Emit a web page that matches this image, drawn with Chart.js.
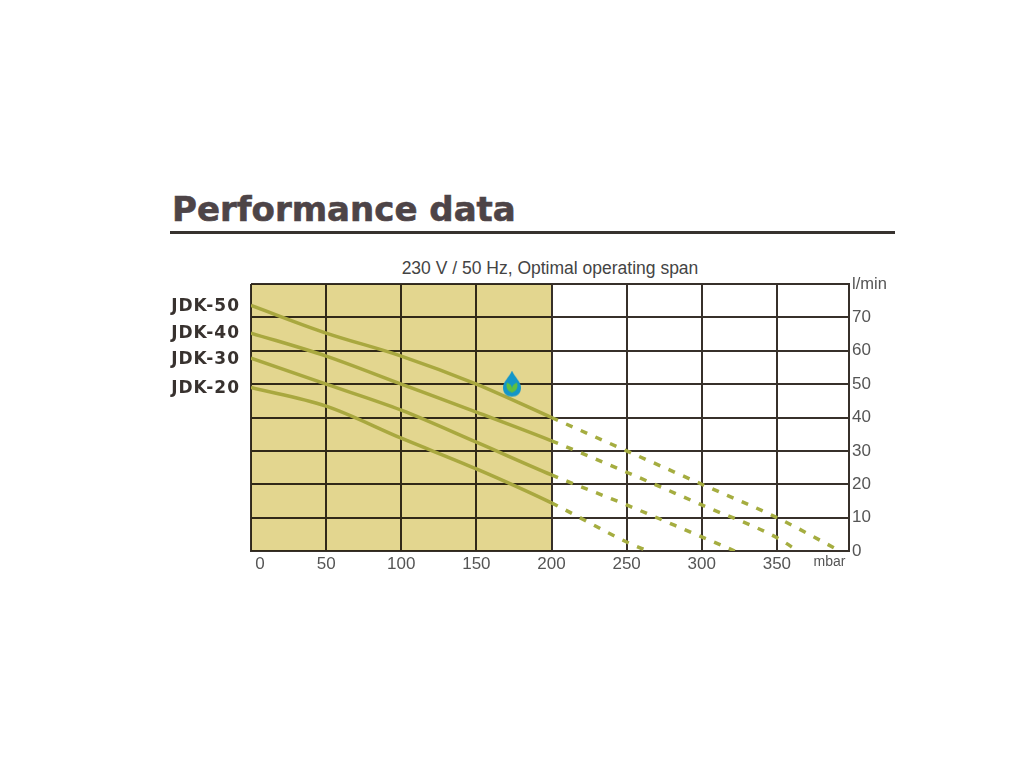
<!DOCTYPE html>
<html>
<head>
<meta charset="utf-8">
<title>Performance data</title>
<script src="https://cdn.jsdelivr.net/npm/chart.js@4"></script>
<style>
    html, body { margin: 0; background: #fff; }
    #page { position: relative; width: 1024px; height: 768px; overflow: hidden; }
    #heading {
        position: absolute; left: 172px; top: 188px; margin: 0;
        font: bold 34px "DejaVu Sans", sans-serif; line-height: 42px;
        -webkit-text-stroke: 0.6px #4d4447;
        color: #4d4447; white-space: nowrap;
    }
    #rule { position: absolute; left: 170px; top: 231px; width: 725px; height: 3px; background: #37322f; }
    #subtitle {
        position: absolute; left: 251px; top: 258px; width: 598px; text-align: center;
        font: 17.5px "Liberation Sans", Arial, sans-serif; line-height: 20px;
        color: #444; white-space: nowrap;
    }
    canvas { position: absolute; left: 0; top: 0; }
</style>
</head>
<body>
<div id="page">
    <h1 id="heading">Performance data</h1>
    <div id="rule"></div>
    <div id="subtitle">230 V / 50 Hz, Optimal operating span</div>
    <canvas id="chart" width="1024" height="768"></canvas>
</div>
<script>
// Values
const jdk50Pressure = [0, 50, 100, 150, 200, 250, 300, 350, 392];
const jdk50Flow = [73.6, 65.3, 58.4, 50, 40, 30, 20, 10, 0];

const jdk40Pressure = [0, 50, 100, 150, 200, 250, 300, 350, 364];
const jdk40Flow = [65.3, 58.4, 50, 41.6, 33, 23.6, 13.8, 4, 0];

const jdk30Pressure = [0, 50, 100, 150, 200, 250, 300, 322];
const jdk30Flow = [57.8, 50, 42.2, 32.6, 22.8, 13.8, 4.2, 0];

const jdk20Pressure = [0, 50, 100, 150, 200, 250, 264];
const jdk20Flow = [49, 43.4, 33.8, 24.6, 14.4, 2.7, 0];

const seriesNames = ["JDK-50", "JDK-40", "JDK-30", "JDK-20"];
const optimalSpan = [0, 200];

const xGridValues = [0, 50, 100, 150, 200, 250, 300, 350];
const yTickValues = [0, 10, 20, 30, 40, 50, 60, 70, 80];

// The "0" and "mbar" captions sit off their grid positions in the original
const xCaptions = [[6, "0"], [385, "mbar"]];
const dropPosition = [173.7, 50];

const lineColor = "#a9a83f";
const dashColor = "#a5ad40";
const gridColor = "#37302a";
const labelFont = '"Liberation Sans", Arial, sans-serif';

function line(label, xs, ys) {
    return {
        label: label,
        data: xs.map((x, i) => ({ x: x, y: ys[i] })),
        borderColor: lineColor,
        borderWidth: 3.5,
        pointRadius: 0,
        cubicInterpolationMode: "monotone",
        order: 1,
        segment: {
            borderColor: c => c.p0.parsed.x >= optimalSpan[1] ? dashColor : lineColor,
            borderDash: c => c.p0.parsed.x >= optimalSpan[1] ? [7, 9] : undefined
        }
    };
}

// Little water drop stuck on the picture
function makeDrop() {
    const c = document.createElement("canvas");
    c.width = 20;
    c.height = 27;
    const g = c.getContext("2d");
    g.fillStyle = "#1496c8";
    g.beginPath();
    g.moveTo(10, 0);
    g.bezierCurveTo(13, 7, 19, 11, 19, 17);
    g.bezierCurveTo(19, 23, 15, 26, 10, 26);
    g.bezierCurveTo(5, 26, 1, 23, 1, 17);
    g.bezierCurveTo(1, 11, 7, 7, 10, 0);
    g.fill();
    g.fillStyle = "#5fbf3f";
    g.beginPath();
    g.moveTo(10, 22);
    g.bezierCurveTo(4, 20, 4, 15, 5, 12);
    g.bezierCurveTo(8, 13, 10, 15, 10, 18);
    g.bezierCurveTo(10, 15, 12, 13, 15, 12);
    g.bezierCurveTo(16, 15, 16, 20, 10, 22);
    g.fill();
    return c;
}

// Series names left of the plot, level with the start of each curve
const seriesLabels = {
    id: "seriesLabels",
    afterDraw(chart) {
        const g = chart.ctx;
        g.save();
        g.font = 'bold 17px "DejaVu Sans", sans-serif';
        g.letterSpacing = "1px";
        g.fillStyle = "#38322f";
        g.textAlign = "right";
        g.textBaseline = "middle";
        chart.data.datasets.forEach(ds => {
            if (seriesNames.includes(ds.label)) {
                g.fillText(ds.label, 240, chart.scales.y.getPixelForValue(ds.data[0].y) + 1);
            }
        });
        g.restore();
    }
};

// Yellow band multiplied on so the grid stays dark underneath.
// The band is drawn first, and the filler runs before per-dataset plugin hooks,
// so the mode has to be set before the whole dataset pass.
const multiplyBand = {
    id: "multiplyBand",
    beforeDatasetsDraw(chart) {
        chart.ctx.globalCompositeOperation = "multiply";
    },
    afterDatasetDraw(chart, args) {
        if (args.index === 0) chart.ctx.globalCompositeOperation = "source-over";
    }
};

// Scriptable tick options also get called without a tick
const tickValue = c => c.tick ? c.tick.value : null;
const isCaption = v => xCaptions.some(c => c[0] === v);

new Chart(document.getElementById("chart"), {
    type: "line",
    data: {
        datasets: [
            {
                label: "Optimal operating span",
                data: optimalSpan.map(x => ({ x: x, y: 80 })),
                backgroundColor: "#e3d68f",
                borderWidth: 0,
                pointRadius: 0,
                fill: "origin",
                order: 9
            },
            line("JDK-50", jdk50Pressure, jdk50Flow),
            line("JDK-40", jdk40Pressure, jdk40Flow),
            line("JDK-30", jdk30Pressure, jdk30Flow),
            line("JDK-20", jdk20Pressure, jdk20Flow),
            {
                label: "drop",
                data: [{ x: dropPosition[0], y: dropPosition[1] }],
                pointStyle: makeDrop(),
                showLine: false,
                order: 0
            }
        ]
    },
    options: {
        responsive: false,
        animation: false,
        layout: { padding: { left: 251, right: 135, top: 284, bottom: 187 } },
        plugins: {
            legend: { display: false },
            tooltip: { enabled: false }
        },
        scales: {
            x: {
                type: "linear",
                min: 0,
                max: 398,
                afterBuildTicks: axis => {
                    axis.ticks = xGridValues.concat(xCaptions.map(c => c[0])).map(v => ({ value: v }));
                },
                afterFit: axis => { axis.height = 30; },
                border: { display: true, color: gridColor, width: 2 },
                grid: {
                    color: gridColor,
                    lineWidth: c => isCaption(tickValue(c)) ? 0 : 2,
                    drawTicks: false
                },
                ticks: {
                    autoSkip: false,
                    maxRotation: 0,
                    padding: 3,
                    color: "#555",
                    font: c => ({ family: labelFont, size: tickValue(c) === 385 ? 14 : 17 }),
                    callback: v => {
                        const cap = xCaptions.find(c => c[0] === v);
                        if (cap) return cap[1];
                        return v === 0 ? "" : String(v);
                    }
                }
            },
            y: {
                position: "right",
                min: 0,
                max: 80,
                afterBuildTicks: axis => {
                    axis.ticks = yTickValues.map(v => ({ value: v }));
                },
                afterFit: axis => { axis.width = 40; },
                border: { display: true, color: gridColor, width: 2 },
                grid: { color: gridColor, lineWidth: 2, drawTicks: false },
                ticks: {
                    padding: 3,
                    color: "#555",
                    font: c => ({ family: labelFont, size: tickValue(c) === 80 ? 16.5 : 17 }),
                    callback: v => v === 80 ? "l/min" : String(v)
                }
            }
        }
    },
    plugins: [seriesLabels, multiplyBand]
});
</script>
</body>
</html>
